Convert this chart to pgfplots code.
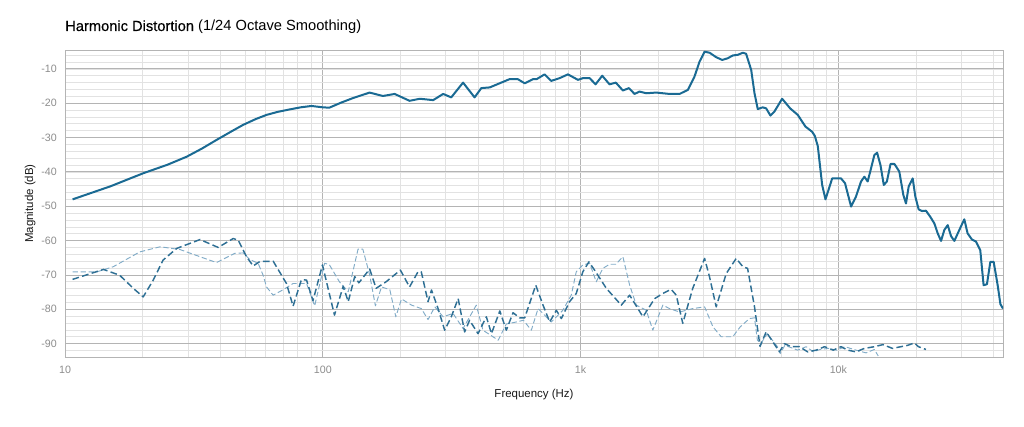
\documentclass[border=0pt]{standalone}
\usepackage{fontspec}
\setmainfont{Liberation Sans}
\newfontfamily\medfont[FakeBold=0.4]{Liberation Sans}
\usepackage{pgfplots}
\pgfplotsset{compat=1.18}
\definecolor{mainc}{HTML}{1A6A93}
\definecolor{dashc}{HTML}{2E6F94}
\definecolor{lightc}{HTML}{80ABC7}
\definecolor{tickc}{HTML}{8C8C8C}
\definecolor{majg}{HTML}{B4B4B4}
\definecolor{ming}{HTML}{E2E2E2}
\begin{document}
\begin{tikzpicture}[x=1pt,y=1pt]
\useasboundingbox (0,0) rectangle (768,320.25);
\begin{axis}[
  at={(48.75pt,52.5pt)}, anchor=south west,
  scale only axis, width=703.5pt, height=230.25pt,
  xmode=log, xmin=10, xmax=43500, ymin=-93.9, ymax=-4.5,
  xtick={10,100,1000,10000}, xticklabels={10,100,1k,10k},
  minor xtick={20,30,40,50,60,70,80,90,200,300,400,500,600,700,800,900,2000,3000,4000,5000,6000,7000,8000,9000,20000,30000,40000},
  ytick={-90,-80,-70,-60,-50,-40,-30,-20,-10},
  yticklabels={-90,-80,-70,-60,-50,-40,-30,-20,-10},
  minor ytick={-92,-90,...,-6},
  major tick length=0pt, minor tick length=0pt,
  grid=both,
  major grid style={majg, line width=0.6pt},
  minor grid style={ming, line width=0.5pt},
  axis line style={majg, line width=0.6pt},
  ticklabel style={font=\fontsize{8}{9}\selectfont, text=tickc},
  yticklabel style={anchor=east, xshift=-2.6pt},
  xticklabel style={anchor=north, yshift=-3.3pt},
  title={{\medfont Harmonic Distortion} (1/24 Octave Smoothing)},
  title style={at={(axis description cs:0,1)}, anchor=base west, inner sep=0pt, yshift=8.25pt, font=\fontsize{11}{13}\selectfont, text=black},
  xlabel={Frequency (Hz)},
  xlabel style={at={(axis description cs:0.5,0)}, anchor=base, yshift=-30.75pt, font=\fontsize{8.6}{10}\selectfont, text=black!90},
  ylabel={Magnitude (dB)},
  ylabel style={at={(axis description cs:-0.0341,0.5)}, anchor=base, font=\fontsize{8.6}{10}\selectfont, text=black!90},
]
\addplot[lightc, line width=0.7pt, dash pattern=on 4pt off 2pt, line join=round] coordinates {
(10.7,-69.1)(13.3,-69.1)(15.4,-67.6)(19.5,-63.3)(23.4,-61.8)(27.9,-62.6)(33.4,-64.7)(38.7,-66.4)(45.6,-63.7)(49.1,-63.6)(52.1,-65.5)(56.1,-66.6)(58.7,-70.1)(60.5,-73.5)(64.2,-75.9)(70.2,-74.3)(76.7,-72.5)(86.5,-72.5)(93.0,-79.0)(101.6,-66.6)(106,-67.0)(116,-72.0)(125.5,-74.9)(137,-62.5)(143,-62.5)(152,-70.0)(160,-79.0)(169,-73.5)(182,-74.3)(192,-82.2)(202,-77.0)(221,-78.8)(241,-79.8)(256,-83.0)(272,-79.3)(293,-82.2)(320,-81.2)(350,-85.6)(394,-78.8)(418,-86.1)(457,-88.0)(479,-89.0)(515,-84.3)(564,-83.7)(600,-83.2)(644,-86.1)(684,-79.8)(770,-83.7)(853,-80.3)(920,-75.9)(962,-69.1)(1020,-67.1)(1084,-66.6)(1150,-72.0)(1220,-68.1)(1295,-66.9)(1370,-66.9)(1459,-64.7)(1550,-73.0)(1645,-78.8)(1798,-80.3)(1906,-86.1)(2085,-78.8)(2213,-79.8)(2421,-80.8)(2723,-79.8)(3027,-79.3)(3260,-85.1)(3510,-88.0)(3894,-88.0)(4163,-85.1)(4520,-82.7)(4727,-82.5)(4850,-89.0)(5000,-90.0)(5300,-87.1)(5800,-90.9)(5950,-92.9)(6200,-90.5)(6950,-91.9)(7500,-90.9)(8000,-92.4)(8500,-91.7)(9130,-91.4)(9850,-91.9)(10600,-90.9)(11700,-91.9)(12800,-92.7)(13790,-91.7)(14270,-93.6)
};
\addplot[dashc, line width=1.1pt, dash pattern=on 5pt off 2.5pt, line join=round] coordinates {
(10.7,-71.3)(14.1,-68.4)(16.3,-70.1)(18.4,-73.9)(20.1,-76.4)(22.0,-71.5)(24.0,-65.7)(27.1,-62.3)(33.4,-59.7)(39.3,-62.0)(44.9,-59.4)(47.0,-59.9)(50.6,-64.7)(53.7,-67.4)(57.0,-66.1)(64.2,-66.0)(72.3,-72.5)(76.7,-79.1)(82.6,-71.4)(86.5,-71.5)(91.6,-77.5)(99.7,-67.1)(111,-81.7)(120,-73.3)(125.5,-77.8)(133,-70.5)(138,-72.3)(152,-68.3)(161,-73.9)(176,-72.0)(200,-68.6)(217,-73.5)(234,-69.1)(241,-69.1)(256,-77.8)(264,-74.4)(280,-79.8)(297,-86.1)(315,-82.2)(335,-76.9)(355,-86.6)(371,-83.2)(400,-87.1)(431,-82.2)(451,-87.1)(486,-80.5)(515,-86.1)(547,-81.0)(580,-82.5)(607,-82.5)(670,-73.0)(715,-78.8)(759,-83.7)(805,-80.3)(842,-82.7)(906,-77.8)(962,-75.4)(1020,-69.1)(1077,-66.2)(1133,-68.6)(1258,-73.9)(1438,-78.8)(1550,-75.9)(1745,-82.2)(1938,-76.9)(2085,-75.4)(2245,-74.2)(2350,-75.9)(2491,-84.1)(2723,-73.9)(3027,-65.2)(3164,-70.6)(3358,-79.3)(3672,-69.6)(4013,-65.2)(4259,-67.6)(4444,-68.1)(4727,-79.3)(4966,-90.8)(5245,-86.6)(5570,-89.5)(5910,-92.4)(6180,-90.0)(6550,-90.9)(7060,-90.9)(7600,-92.4)(8200,-91.9)(8840,-90.9)(9550,-91.9)(10240,-90.9)(10870,-91.9)(11700,-92.4)(12610,-91.4)(13790,-90.9)(14870,-90.3)(16220,-91.4)(17480,-90.9)(18570,-90.5)(19720,-89.8)(20440,-90.9)(21860,-91.7)
};
\addplot[mainc, line width=1.5pt, line join=round] coordinates {
(10.7,-48.0)(15,-44.2)(20.1,-40.4)(25,-37.9)(29.6,-35.6)(34,-33.2)(38.7,-30.7)(44,-28.3)(49.1,-26.3)(55,-24.6)(60.5,-23.4)(67,-22.5)(74.5,-21.8)(82,-21.2)(90.4,-20.8)(100,-21.2)(106,-21.3)(118,-19.8)(131,-18.5)(152,-16.9)(171,-17.9)(190,-17.3)(217,-19.3)(238,-18.7)(268,-19.1)(293,-17.3)(315,-18.3)(350,-14.0)(388,-18.3)(412,-15.6)(444,-15.4)(530,-13.0)(571,-13.0)(607,-14.2)(654,-13.0)(675,-13.0)(725,-11.6)(769,-13.5)(829,-12.7)(893,-11.6)(977,-13.2)(1021,-12.7)(1084,-12.7)(1143,-14.5)(1213,-12.0)(1295,-14.5)(1370,-14.0)(1459,-16.3)(1540,-15.6)(1619,-17.3)(1693,-16.6)(1798,-17.1)(1965,-16.9)(2085,-17.1)(2213,-17.3)(2421,-17.3)(2608,-16.1)(2767,-12.2)(2893,-7.9)(3027,-5.0)(3164,-5.3)(3358,-6.6)(3542,-7.4)(3724,-6.9)(3894,-6.1)(4073,-5.9)(4259,-5.3)(4385,-5.6)(4589,-10.3)(4727,-17.1)(4866,-21.7)(5090,-21.2)(5245,-21.5)(5450,-23.6)(5650,-22.4)(6050,-18.7)(6500,-21.5)(6956,-23.4)(7449,-26.8)(7906,-28.3)(8100,-29.5)(8320,-32.5)(8650,-43.8)(8910,-48.0)(9460,-41.9)(9800,-41.9)(10240,-41.9)(10610,-43.3)(11200,-50.1)(11700,-47.2)(12240,-42.8)(12610,-41.4)(12990,-42.8)(13790,-35.1)(14130,-34.4)(14560,-38.0)(15000,-43.8)(15420,-42.8)(15930,-37.7)(16500,-37.7)(17230,-39.9)(17860,-46.7)(18290,-49.2)(18730,-44.3)(19420,-41.9)(19880,-47.2)(20480,-50.9)(21090,-51.4)(21860,-51.3)(22730,-53.1)(23560,-55.0)(24280,-57.9)(25010,-60.1)(25760,-56.9)(26550,-55.5)(27350,-58.7)(28170,-60.1)(29450,-56.9)(30790,-53.8)(31710,-57.9)(32970,-59.7)(34190,-60.3)(35510,-62.8)(36580,-73.0)(37700,-72.7)(38850,-66.2)(40020,-66.2)(41480,-73.0)(42500,-78.5)(43500,-79.8)
};
\end{axis}
\end{tikzpicture}
\end{document}
